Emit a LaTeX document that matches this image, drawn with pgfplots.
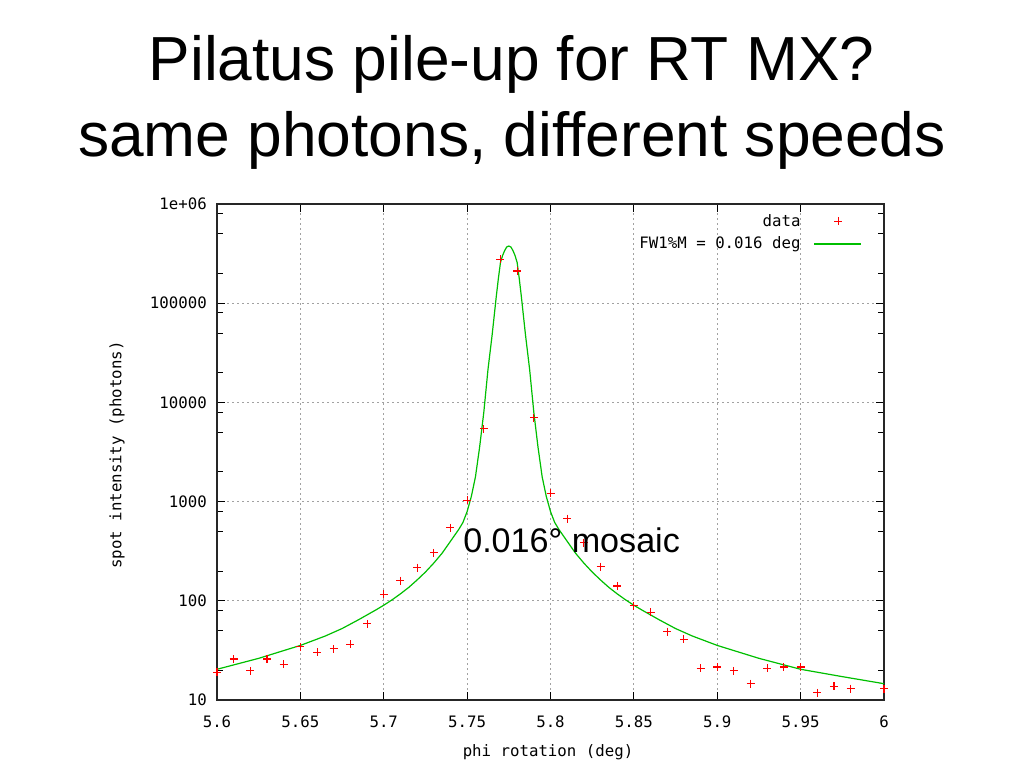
\documentclass[border=0pt]{standalone}
\usepackage{fontspec}
\setmainfont{Liberation Sans}
\setmonofont{DejaVu Sans Mono}
\usepackage{pgfplots}
\pgfplotsset{compat=1.18}
\definecolor{gpred}{rgb}{1,0,0}
\definecolor{gpgreen}{rgb}{0.0,0.75,0.0}
\definecolor{gpgrid}{rgb}{0.63,0.63,0.63}
\pgfplotsset{
  gpmarklegend/.style={legend image code/.code={\path (0pt,0pt); \draw[mark repeat=2,mark phase=2,##1] plot coordinates {(8pt,0pt) (26pt,0pt) (43pt,0pt)};}},
  gplinelegend/.style={legend image code/.code={\path (0pt,0pt); \draw[##1] (8pt,0pt) -- (43pt,0pt);}},
}
\begin{document}
\begin{tikzpicture}[x=0.75pt,y=0.75pt]
\path[use as bounding box] (0,0) rectangle (1024,768);
\begin{axis}[
  at={(162.75pt,51pt)}, anchor=south west,
  scale only axis, width=500.25pt, height=372pt,
  xmin=5.6, xmax=6, ymin=10, ymax=1000000, ymode=log,
  xtick={5.6,5.65,5.7,5.75,5.8,5.85,5.9,5.95,6},
  xticklabels={5.6,5.65,5.7,5.75,5.8,5.85,5.9,5.95,6},
  ytick={10,100,1000,10000,100000,1000000},
  yticklabels={10,100,1000,10000,100000,1e+06},
  minor ytick={20,50,80,200,500,800,2000,5000,8000,20000,50000,80000,200000,500000,800000},
  minor xtick={},
  xtick pos=both, ytick pos=both,
  xticklabel pos=left, yticklabel pos=left,
  tick align=inside,
  major tick length=6pt, minor tick length=4.5pt,
  tick style={black, line width=0.6pt},
  axis line style={black!85, line width=0.8pt},
  grid=major,
  major grid style={gpgrid, line width=0.6pt, dash pattern=on 1.5pt off 2.25pt},
  ticklabel style={font=\ttfamily\fontsize{11.8}{13}\selectfont, inner sep=0pt},
  xticklabel style={anchor=north, yshift=-12pt},
  yticklabel style={anchor=east, xshift=-7.5pt},
  legend style={at={(rel axis cs:0.967,0.985)}, anchor=north east, draw=none, fill=none,
    font=\ttfamily\fontsize{11.8}{13}\selectfont, inner sep=0pt, row sep=2.5pt,
    legend cell align=right},
  legend plot pos=right,
]
\addplot[only marks, mark=+, mark size=3pt, draw=gpred, color=gpred, mark options={line width=0.8pt, draw=gpred}, gpmarklegend]
coordinates {
(5.60,19.1) (5.61,25.9) (5.62,19.7) (5.63,25.9) (5.64,22.9)
(5.65,34.4) (5.66,30.3) (5.67,32.7) (5.68,36.4) (5.69,58.7)
(5.70,117) (5.71,160) (5.72,216) (5.73,305) (5.74,546)
(5.75,1030) (5.76,5400) (5.77,277000) (5.78,211000) (5.79,7000)
(5.80,1213) (5.81,673) (5.82,385) (5.83,221) (5.84,141)
(5.85,89) (5.86,77) (5.87,48.9) (5.88,40.9) (5.89,20.9)
(5.90,21.5) (5.91,19.7) (5.92,14.6) (5.93,20.9) (5.94,21.5)
(5.95,21.5) (5.96,11.8) (5.97,13.7) (5.98,13.0) (5.99,9.8)
(6.00,13.0)
};
\addlegendentry{data}
\addplot[no markers, color=gpgreen, line width=0.9pt, gplinelegend]
coordinates {
(5.600,20.4) (5.625,26.3) (5.650,35.5) (5.665,44.2) (5.675,52.5)
(5.685,64.6) (5.695,80.4) (5.700,90.2) (5.705,102.3) (5.710,117.5)
(5.715,136.5) (5.720,162.2) (5.725,195) (5.730,240) (5.735,302)
(5.740,398) (5.745,525) (5.7475,617) (5.750,794) (5.7525,1122)
(5.755,1778) (5.7575,3550) (5.760,7940) (5.7625,21400) (5.765,47900)
(5.7675,117500) (5.76875,178000) (5.770,257000) (5.77125,302000) (5.7725,338800)
(5.77375,368600) (5.775,377000) (5.77625,368600) (5.7775,338800) (5.77875,302000)
(5.780,257000) (5.78125,178000) (5.7825,117500) (5.785,47900) (5.7875,21400)
(5.790,7940) (5.7925,3550) (5.795,1778) (5.7975,1122) (5.800,794)
(5.8025,617) (5.805,525) (5.810,398) (5.815,302) (5.820,240)
(5.825,195) (5.830,162.2) (5.835,136.5) (5.840,117.5) (5.845,102.3)
(5.850,90.2) (5.855,80.4) (5.865,64.6) (5.875,52.5) (5.885,44.2)
(5.900,35.5) (5.925,26.3) (5.950,20.4) (5.975,17.2) (6.000,14.6)
};
\addlegendentry{FW1\%M = 0.016 deg}
\end{axis}
\node[anchor=base, inner sep=0pt, font=\fontsize{46.7}{50}\selectfont] at (511.5,687) {Pilatus pile-up for RT MX?};
\node[anchor=base, inner sep=0pt, font=\fontsize{46.7}{50}\selectfont] at (512,611.3) {same photons, different speeds};
\node[anchor=base west, inner sep=0pt, font=\fontsize{25.6}{28}\selectfont] at (463,216) {0.016° mosaic};
\node[rotate=90, inner sep=0pt, font=\ttfamily\fontsize{11.8}{13}\selectfont] at (117,313) {spot intensity (photons)};
\node[inner sep=0pt, font=\ttfamily\fontsize{11.8}{13}\selectfont] at (548,16) {phi rotation (deg)};
\end{tikzpicture}
\end{document}
